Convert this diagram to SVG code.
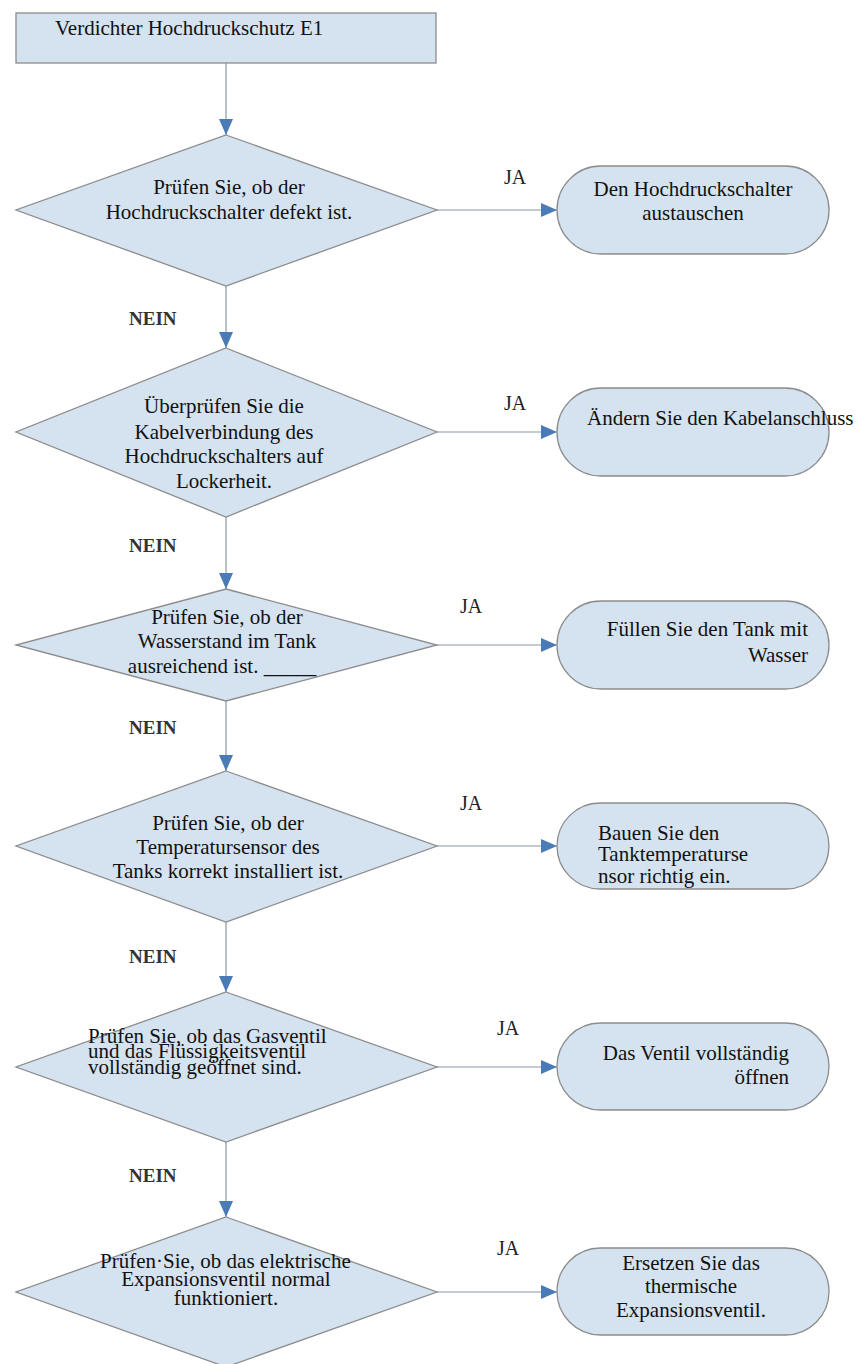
<svg xmlns="http://www.w3.org/2000/svg" width="861" height="1364" viewBox="0 0 861 1364">
  <defs>
    <marker id="arrow" markerUnits="userSpaceOnUse" markerWidth="16" markerHeight="14" refX="16" refY="7" orient="auto">
      <path d="M0,0 L16,7 L0,14 Z" fill="#4a7bb7"/>
    </marker>
  </defs>
  <style>
    .box { fill: #d5e2ef; stroke: #8c8c8c; stroke-width: 1.3; }
    .t { font-family: "Liberation Serif", "Times New Roman", serif; font-size: 21px; fill: #111; }
    .c { text-anchor: middle; }
    .r { text-anchor: end; }
    .ja { font-family: "Liberation Serif", "Times New Roman", serif; font-size: 20px; fill: #222; }
    .nein { font-family: "Liberation Serif", "Times New Roman", serif; font-size: 19px; font-weight: bold; fill: #333; }
    .edge { fill: none; stroke: #8a98aa; stroke-width: 1.2; marker-end: url(#arrow); }
  </style>
  <rect width="861" height="1364" fill="#ffffff"/>

  <!-- connectors -->
  <g id="connectors">
    <path class="edge" d="M226,63 V135"/>
    <path class="edge" d="M226,286 V348"/>
    <path class="edge" d="M226,517 V589"/>
    <path class="edge" d="M226,701 V771"/>
    <path class="edge" d="M226,922 V992"/>
    <path class="edge" d="M226,1142 V1217"/>
    <path class="edge" d="M437,210 H557"/>
    <path class="edge" d="M437,432 H557"/>
    <path class="edge" d="M437,645 H557"/>
    <path class="edge" d="M437,846 H557"/>
    <path class="edge" d="M437,1067 H557"/>
    <path class="edge" d="M437,1292 H557"/>
    <text class="ja" x="504" y="184">JA</text>
    <text class="ja" x="504" y="410">JA</text>
    <text class="ja" x="460" y="613">JA</text>
    <text class="ja" x="460" y="810">JA</text>
    <text class="ja" x="497" y="1035">JA</text>
    <text class="ja" x="497" y="1255">JA</text>
    <text class="nein" x="129" y="325">NEIN</text>
    <text class="nein" x="129" y="552">NEIN</text>
    <text class="nein" x="129" y="734">NEIN</text>
    <text class="nein" x="129" y="963">NEIN</text>
    <text class="nein" x="129" y="1182">NEIN</text>
  </g>

  <!-- start -->
  <g id="start">
    <rect class="box" x="16" y="13" width="420" height="50"/>
    <text class="t" x="55" y="35">Verdichter Hochdruckschutz E1</text>
  </g>

  <!-- decisions -->
  <g id="check-switch">
    <polygon class="box" points="226,135 437,210 226,286 16,210"/>
    <text class="t c" x="229" y="194">Prüfen Sie, ob der</text>
    <text class="t c" x="229" y="219">Hochdruckschalter defekt ist.</text>
  </g>
  <g id="check-cable">
    <polygon class="box" points="226,348 437,432 226,517 16,432"/>
    <text class="t c" x="224" y="413">Überprüfen Sie die</text>
    <text class="t c" x="224" y="439">Kabelverbindung des</text>
    <text class="t c" x="224" y="463">Hochdruckschalters auf</text>
    <text class="t c" x="224" y="488">Lockerheit.</text>
  </g>
  <g id="check-water">
    <polygon class="box" points="226,589 437,645 226,701 16,645"/>
    <text class="t c" x="227" y="624">Prüfen Sie, ob der</text>
    <text class="t c" x="227" y="648">Wasserstand im Tank</text>
    <text class="t c" x="222" y="673">ausreichend ist. _____</text>
  </g>
  <g id="check-sensor">
    <polygon class="box" points="226,771 437,846 226,922 16,846"/>
    <text class="t c" x="228" y="830">Prüfen Sie, ob der</text>
    <text class="t c" x="228" y="854">Temperatursensor des</text>
    <text class="t c" x="228" y="878">Tanks korrekt installiert ist.</text>
  </g>
  <g id="check-valves">
    <polygon class="box" points="226,992 437,1067 226,1142 16,1067"/>
    <text class="t" x="88" y="1043">Prüfen Sie, ob das Gasventil</text>
    <text class="t" x="88" y="1058">und das Flüssigkeitsventil</text>
    <text class="t" x="88" y="1074">vollständig geöffnet sind.</text>
  </g>
  <g id="check-expansion">
    <polygon class="box" points="226,1217 437,1292 226,1367 16,1292"/>
    <text class="t" x="100" y="1268">Prüfen·Sie, ob das elektrische</text>
    <text class="t c" x="226" y="1286">Expansionsventil normal</text>
    <text class="t c" x="226" y="1305">funktioniert.</text>
  </g>

  <!-- actions -->
  <g id="replace-switch">
    <rect class="box" x="557" y="166" width="272" height="88" rx="44" ry="44"/>
    <text class="t c" x="693" y="196">Den Hochdruckschalter</text>
    <text class="t c" x="693" y="220">austauschen</text>
  </g>
  <g id="fix-cable">
    <rect class="box" x="557" y="388" width="272" height="88" rx="44" ry="44"/>
    <text class="t" x="587" y="425">Ändern Sie den Kabelanschluss</text>
  </g>
  <g id="fill-tank">
    <rect class="box" x="557" y="601" width="272" height="88" rx="44" ry="44"/>
    <text class="t r" x="808" y="636">Füllen Sie den Tank mit</text>
    <text class="t r" x="808" y="662">Wasser</text>
  </g>
  <g id="mount-sensor">
    <rect class="box" x="557" y="803" width="272" height="86" rx="43" ry="43"/>
    <text class="t" x="598" y="840">Bauen Sie den</text>
    <text class="t" x="598" y="861">Tanktemperaturse</text>
    <text class="t" x="598" y="883">nsor richtig ein.</text>
  </g>
  <g id="open-valve">
    <rect class="box" x="557" y="1023" width="272" height="87" rx="43.5" ry="43.5"/>
    <text class="t r" x="789" y="1060">Das Ventil vollständig</text>
    <text class="t r" x="789" y="1084">öffnen</text>
  </g>
  <g id="replace-valve">
    <rect class="box" x="557" y="1248" width="272" height="87" rx="43.5" ry="43.5"/>
    <text class="t c" x="691" y="1270">Ersetzen Sie das</text>
    <text class="t c" x="691" y="1293">thermische</text>
    <text class="t c" x="691" y="1317">Expansionsventil.</text>
  </g>
</svg>
